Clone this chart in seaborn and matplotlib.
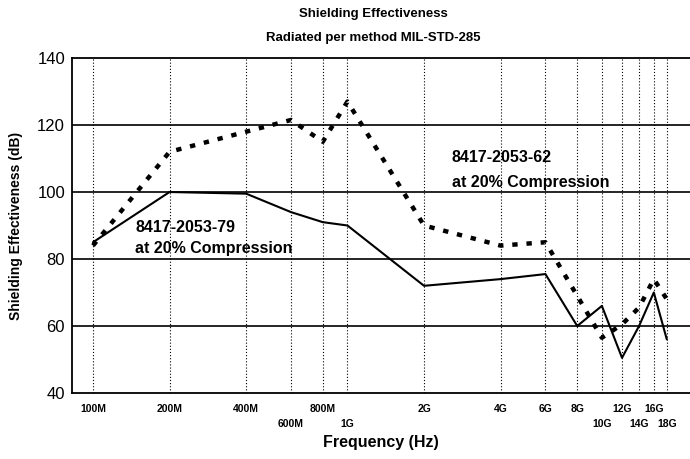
import matplotlib
matplotlib.use("Agg")
import matplotlib.pyplot as plt
from matplotlib.ticker import NullLocator, FixedLocator
import seaborn as sns
import pandas as pd

# ---- data ----
freq_hz = [100e6, 200e6, 400e6, 600e6, 800e6, 1e9, 2e9, 4e9, 6e9, 8e9,
           10e9, 12e9, 14e9, 16e9, 18e9]
tick_labels = ["100M", "200M", "400M", "600M", "800M", "1G", "2G", "4G",
               "6G", "8G", "10G", "12G", "14G", "16G", "18G"]
lower_row = ["600M", "1G", "10G", "14G", "18G"]
se_79 = [85, 100, 99.5, 94, 91, 90, 72, 74, 75.5, 60, 66, 50.5, 60, 70, 56]
se_62 = [84, 112, 118, 121.5, 115, 127, 90, 84, 85, 69, 56.5, 60.5, 65.5, 74, 68]
y_ticks = [40, 60, 80, 100, 120, 140]

df = pd.DataFrame({"freq": freq_hz, "se79": se_79, "se62": se_62})

sns.set_style("white")
plt.rcParams["font.family"] = ["Liberation Sans", "DejaVu Sans"]
plt.rcParams["text.color"] = "black"
plt.rcParams["axes.labelcolor"] = "black"
plt.rcParams["xtick.color"] = "black"
plt.rcParams["ytick.color"] = "black"

W, H = 690, 459
fig = plt.figure(figsize=(W / 100, H / 100), dpi=100)
ax_l, ax_r, ax_t, ax_b = 72, 690, 58, 393
ax = fig.add_axes([ax_l / W, 1 - ax_b / H, (ax_r - ax_l) / W, (ax_b - ax_t) / H])
ax.set_xscale("log")

# grid lines
for f in freq_hz:
    ax.axvline(f, color="black", lw=0.8, ls=(0, (1, 1.8)), zorder=1)
for y in [60, 80, 100, 120]:
    ax.axhline(y, color="black", lw=1.2, zorder=1)

sns.lineplot(data=df, x="freq", y="se79", ax=ax, color="black", lw=1.5, zorder=3)
sns.lineplot(data=df, x="freq", y="se62", ax=ax, color="black", lw=3.2,
             linestyle=(0, (1.2, 2.0)), dash_capstyle="butt", zorder=3)

ax.set_xlim(82.7e6, 22.2e9)
ax.set_ylim(40, 140)
ax.xaxis.set_major_locator(FixedLocator(freq_hz))
ax.xaxis.set_minor_locator(NullLocator())
ax.set_xticklabels(tick_labels, fontsize=7.5, fontweight="bold", color="black")
ax.set_yticks(y_ticks)
ax.set_yticklabels([str(v) for v in y_ticks], fontsize=12, color="black")
ax.tick_params(axis="x", direction="in", length=5, width=1, pad=8, colors="black")
ax.tick_params(axis="y", direction="out", length=4, width=1, pad=1, colors="black")
for tick, lab in zip(ax.xaxis.get_major_ticks(), tick_labels):
    tick.set_pad(18.5 if lab in lower_row else 8)

for s in ["left", "bottom", "top"]:
    ax.spines[s].set_visible(True)
    ax.spines[s].set_color("black")
    ax.spines[s].set_linewidth(1.3)
ax.spines["right"].set_visible(False)

ax.set_xlabel("Frequency (Hz)", fontsize=11.5, fontweight="bold", va="center")
ax.xaxis.set_label_coords(0.5, (ax_b - 442) / (ax_b - ax_t))
ax.set_ylabel("Shielding Effectiveness (dB)", fontsize=10, fontweight="bold", va="center")
ax.yaxis.set_label_coords((16 - ax_l) / (ax_r - ax_l), 0.5)

fig.text(373 / W, 1 - 14 / H, "Shielding Effectiveness", ha="center", va="center",
         fontsize=9.5, fontweight="bold")
fig.text(373 / W, 1 - 38 / H, "Radiated per method MIL-STD-285", ha="center",
         va="center", fontsize=9.5, fontweight="bold")

fig.text(135 / W, 1 - 228 / H, "8417-2053-79", ha="left", va="center",
         fontsize=11.5, fontweight="bold")
fig.text(135 / W, 1 - 249 / H, "at 20% Compression", ha="left", va="center",
         fontsize=11.5, fontweight="bold")
fig.text(452 / W, 1 - 158 / H, "8417-2053-62", ha="left", va="center",
         fontsize=11.5, fontweight="bold")
fig.text(452 / W, 1 - 182 / H, "at 20% Compression", ha="left", va="center",
         fontsize=11.5, fontweight="bold")

fig.savefig("out.png", dpi=100, facecolor="white")
